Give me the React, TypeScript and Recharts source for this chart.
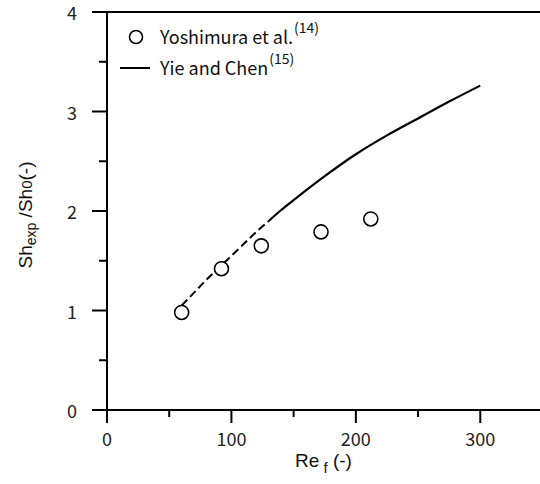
import React from 'react';
import { ComposedChart, Line, Scatter, XAxis, YAxis, ReferenceLine } from 'recharts';

const expRe = [60, 92, 124, 172, 212];
const expSh = [0.98, 1.42, 1.65, 1.79, 1.92];
const dashRe = [60, 70, 80, 90, 100, 110, 120, 130];
const dashSh = [1.05, 1.18, 1.31, 1.43, 1.55, 1.67, 1.79, 1.9];
const solidRe = [130, 140, 150, 175, 200, 225, 250, 275, 300];
const solidSh = [1.9, 2.01, 2.11, 2.35, 2.57, 2.76, 2.93, 3.1, 3.26];
const xTicks = [0, 50, 100, 150, 200, 250, 300];
const xLabelTicks = [0, 100, 200, 300];
const yTicks = [0, 0.5, 1, 1.5, 2, 2.5, 3, 3.5, 4];
const legendNames = ['Yoshimura et al.', 'Yie and Chen'];
const legendRefs = ['(14)', '(15)'];

const expData = expRe.map((x, i) => ({ x, y: expSh[i] }));
const dashData = dashRe.map((x, i) => ({ x, y: dashSh[i] }));
const solidData = solidRe.map((x, i) => ({ x, y: solidSh[i] }));

const FONT = '"Noto Sans CJK KR", "Noto Sans", sans-serif';
const LABEL_FONT = '"Liberation Sans", Arial, sans-serif';

const YTick = (props: any) => {
  const { x, y, payload } = props;
  const v = payload.value;
  const major = Number.isInteger(v);
  return (
    <g>
      <line x1={x - (major ? 15 : 8)} x2={x} y1={y} y2={y} stroke="#000" strokeWidth={2} />
      {major && (
        <text x={x - 30} y={y} textAnchor="end" dominantBaseline="central" fontFamily={FONT} fontSize={18} fill="#222">
          {v}
        </text>
      )}
    </g>
  );
};

const XTick = (props: any) => {
  const { x, y, payload } = props;
  const v = payload.value;
  const major = v % 100 === 0;
  return (
    <g>
      <line x1={x} x2={x} y1={y} y2={y + (major ? 13 : 7)} stroke="#000" strokeWidth={2} />
      {xLabelTicks.includes(v) && (
        <text x={x} y={y + 28} textAnchor="middle" dominantBaseline="central" fontFamily={FONT} fontSize={18} fill="#222">
          {v}
        </text>
      )}
    </g>
  );
};

const Circle = (props: any) => {
  const { cx, cy } = props;
  return <circle cx={cx} cy={cy} r={7} fill="#fff" stroke="#000" strokeWidth={1.6} />;
};

const XLabel = (props: any) => {
  const { viewBox } = props;
  const cx = viewBox.x + viewBox.width / 2;
  return (
    <text x={cx} y={viewBox.y + 57} textAnchor="middle" fontFamily={LABEL_FONT} fontSize={19} fill="#111">
      Re
      <tspan fontSize={15} dy={6}> f</tspan>
      <tspan dy={-6}> (-)</tspan>
    </text>
  );
};

const YLabel = () => {
  return (
    <text
      x={0}
      y={0}
      transform="translate(32, 215) rotate(-90)"
      textAnchor="middle"
      fontFamily={LABEL_FONT}
      fontSize={19}
      fill="#111"
    >
      Sh
      <tspan fontSize={14} dy={4}>exp</tspan>
      <tspan dy={-4}> /Sh</tspan>
      <tspan fontSize={15}>0</tspan>
      <tspan>(-)</tspan>
    </text>
  );
};

const supStyle: React.CSSProperties = { fontSize: 14, verticalAlign: 'top', position: 'relative', top: -9, marginLeft: 1 };

const LegendBox = () => (
  <div
    style={{
      position: 'absolute',
      left: 120,
      top: 21,
      fontFamily: FONT,
      fontSize: 18,
      color: '#111',
      lineHeight: '31px',
      pointerEvents: 'none',
    }}
  >
    <div style={{ display: 'flex', alignItems: 'center', height: 31 }}>
      <svg width={40} height={20}>
        <circle cx={16} cy={10} r={6.5} fill="#fff" stroke="#000" strokeWidth={1.6} />
      </svg>
      <span>
        {legendNames[0]}
        <sup style={supStyle}>{legendRefs[0]}</sup>
      </span>
    </div>
    <div style={{ display: 'flex', alignItems: 'center', height: 31 }}>
      <svg width={40} height={20}>
        <line x1={0} x2={30} y1={10} y2={10} stroke="#000" strokeWidth={2} />
      </svg>
      <span>
        {legendNames[1]}
        <sup style={supStyle}>{legendRefs[1]}</sup>
      </span>
    </div>
  </div>
);

export default function App() {
  return (
    <div style={{ position: 'absolute', left: 0, top: 0, width: 540, height: 484, background: '#fff' }}>
      <ComposedChart width={540} height={484} margin={{ top: 12, right: 0, bottom: 0, left: 0 }}>
        <XAxis
          dataKey="x"
          type="number"
          domain={[0, 348]}
          ticks={xTicks}
          interval={0}
          allowDataOverflow
          tickLine={false}
          tickSize={0}
          tickMargin={0}
          height={74}
          axisLine={{ stroke: '#000', strokeWidth: 2 }}
          tick={<XTick />}
          label={<XLabel />}
        />
        <YAxis
          dataKey="y"
          type="number"
          domain={[0, 4]}
          ticks={yTicks}
          interval={0}
          tickLine={false}
          tickSize={0}
          tickMargin={0}
          width={107}
          axisLine={{ stroke: '#000', strokeWidth: 2 }}
          tick={<YTick />}
          label={<YLabel />}
        />
        <ReferenceLine y={4} stroke="#000" strokeWidth={2} ifOverflow="visible" />
        <Line data={dashData} dataKey="y" type="monotone" stroke="#000" strokeWidth={2} strokeDasharray="8 4" dot={false} isAnimationActive={false} />
        <Line data={solidData} dataKey="y" type="monotone" stroke="#000" strokeWidth={2.2} dot={false} isAnimationActive={false} />
        <Scatter data={expData} dataKey="y" shape={<Circle />} isAnimationActive={false} />
      </ComposedChart>
      <LegendBox />
    </div>
  );
}
